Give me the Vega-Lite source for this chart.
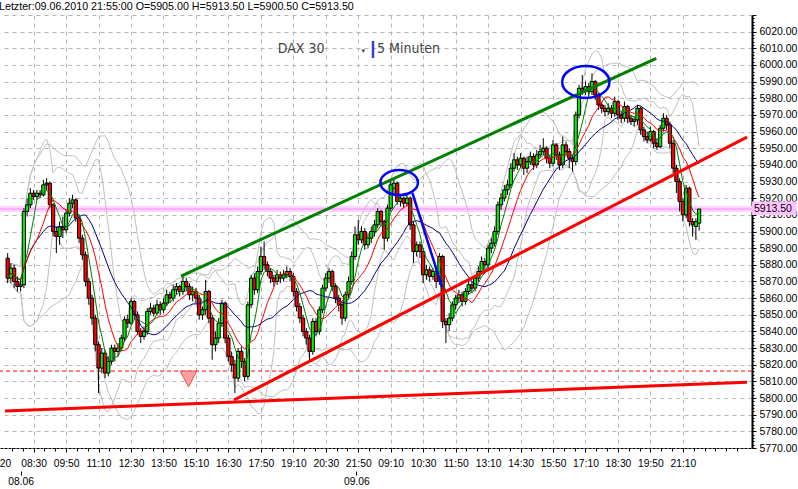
{
"$schema": "https://vega.github.io/schema/vega-lite/v6.json",
"width": 752, "height": 433,
"autosize": {"type": "none"},
"padding": {"left": 0, "top": 15, "right": 46, "bottom": 41},
"background": "white",
"config": {"view": {"stroke": null}, "font": "Liberation Sans", "axis": {"labelFont": "Liberation Sans"}},
"title": {"text": "Letzter:09.06.2010 21:55:00 O=5905.00 H=5913.50 L=5900.50 C=5913.50", "anchor": "start", "fontSize": 10.7, "fontWeight": "normal", "font": "Liberation Sans", "color": "#000000", "offset": 4, "dx": 2, "dy": 7},
"datasets": {
"bars": [
{"i":0,"o":5884,"h":5887,"l":5869,"c":5872},
{"i":1,"o":5872,"h":5881,"l":5869,"c":5878},
{"i":2,"o":5878,"h":5880,"l":5866,"c":5870},
{"i":3,"o":5870,"h":5873,"l":5864,"c":5867},
{"i":4,"o":5867,"h":5871,"l":5864,"c":5868},
{"i":5,"o":5868,"h":5914,"l":5866,"c":5912},
{"i":6,"o":5912,"h":5920,"l":5909,"c":5916},
{"i":7,"o":5916,"h":5926,"l":5914,"c":5923},
{"i":8,"o":5923,"h":5925,"l":5919,"c":5921},
{"i":9,"o":5921,"h":5925,"l":5919,"c":5923},
{"i":10,"o":5923,"h":5925,"l":5920,"c":5922},
{"i":11,"o":5922,"h":5931,"l":5921,"c":5928},
{"i":12,"o":5928,"h":5932,"l":5925,"c":5929},
{"i":13,"o":5929,"h":5930,"l":5914,"c":5916},
{"i":14,"o":5916,"h":5917,"l":5897,"c":5900},
{"i":15,"o":5900,"h":5903,"l":5887,"c":5897},
{"i":16,"o":5897,"h":5906,"l":5892,"c":5903},
{"i":17,"o":5903,"h":5909,"l":5896,"c":5901},
{"i":18,"o":5901,"h":5913,"l":5899,"c":5911},
{"i":19,"o":5911,"h":5920,"l":5909,"c":5917},
{"i":20,"o":5917,"h":5922,"l":5914,"c":5919},
{"i":21,"o":5919,"h":5920,"l":5906,"c":5908},
{"i":22,"o":5908,"h":5910,"l":5893,"c":5896},
{"i":23,"o":5896,"h":5898,"l":5883,"c":5886},
{"i":24,"o":5886,"h":5888,"l":5867,"c":5870},
{"i":25,"o":5870,"h":5872,"l":5856,"c":5860},
{"i":26,"o":5860,"h":5862,"l":5844,"c":5848},
{"i":27,"o":5848,"h":5850,"l":5828,"c":5832},
{"i":28,"o":5832,"h":5834,"l":5803,"c":5818},
{"i":29,"o":5818,"h":5830,"l":5815,"c":5827},
{"i":30,"o":5827,"h":5829,"l":5812,"c":5815},
{"i":31,"o":5815,"h":5825,"l":5813,"c":5822},
{"i":32,"o":5822,"h":5832,"l":5820,"c":5830},
{"i":33,"o":5830,"h":5832,"l":5822,"c":5828},
{"i":34,"o":5828,"h":5833,"l":5825,"c":5830},
{"i":35,"o":5830,"h":5838,"l":5828,"c":5836},
{"i":36,"o":5836,"h":5849,"l":5834,"c":5847},
{"i":37,"o":5847,"h":5850,"l":5842,"c":5845},
{"i":38,"o":5845,"h":5860,"l":5844,"c":5858},
{"i":39,"o":5858,"h":5859,"l":5847,"c":5850},
{"i":40,"o":5850,"h":5852,"l":5838,"c":5840},
{"i":41,"o":5840,"h":5842,"l":5833,"c":5837},
{"i":42,"o":5837,"h":5843,"l":5835,"c":5840},
{"i":43,"o":5840,"h":5854,"l":5838,"c":5852},
{"i":44,"o":5852,"h":5857,"l":5850,"c":5854},
{"i":45,"o":5854,"h":5856,"l":5849,"c":5851},
{"i":46,"o":5851,"h":5859,"l":5850,"c":5856},
{"i":47,"o":5856,"h":5858,"l":5850,"c":5853},
{"i":48,"o":5853,"h":5860,"l":5851,"c":5857},
{"i":49,"o":5857,"h":5865,"l":5855,"c":5862},
{"i":50,"o":5862,"h":5864,"l":5857,"c":5860},
{"i":51,"o":5860,"h":5868,"l":5858,"c":5865},
{"i":52,"o":5865,"h":5869,"l":5862,"c":5867},
{"i":53,"o":5867,"h":5868,"l":5861,"c":5864},
{"i":54,"o":5864,"h":5873,"l":5862,"c":5870},
{"i":55,"o":5870,"h":5872,"l":5864,"c":5867},
{"i":56,"o":5867,"h":5869,"l":5859,"c":5862},
{"i":57,"o":5862,"h":5867,"l":5858,"c":5864},
{"i":58,"o":5864,"h":5866,"l":5857,"c":5860},
{"i":59,"o":5860,"h":5862,"l":5847,"c":5850},
{"i":60,"o":5850,"h":5855,"l":5847,"c":5853},
{"i":61,"o":5853,"h":5871,"l":5850,"c":5864},
{"i":62,"o":5864,"h":5865,"l":5845,"c":5848},
{"i":63,"o":5848,"h":5850,"l":5823,"c":5832},
{"i":64,"o":5832,"h":5840,"l":5828,"c":5836},
{"i":65,"o":5836,"h":5848,"l":5833,"c":5845},
{"i":66,"o":5845,"h":5859,"l":5843,"c":5857},
{"i":67,"o":5857,"h":5858,"l":5833,"c":5836},
{"i":68,"o":5836,"h":5838,"l":5822,"c":5825},
{"i":69,"o":5825,"h":5828,"l":5816,"c":5820},
{"i":70,"o":5820,"h":5823,"l":5803,"c":5812},
{"i":71,"o":5812,"h":5830,"l":5810,"c":5828},
{"i":72,"o":5828,"h":5831,"l":5818,"c":5822},
{"i":73,"o":5822,"h":5824,"l":5810,"c":5813},
{"i":74,"o":5813,"h":5858,"l":5811,"c":5856},
{"i":75,"o":5856,"h":5874,"l":5854,"c":5872},
{"i":76,"o":5872,"h":5875,"l":5862,"c":5865},
{"i":77,"o":5865,"h":5879,"l":5863,"c":5876},
{"i":78,"o":5876,"h":5891,"l":5874,"c":5885},
{"i":79,"o":5885,"h":5894,"l":5877,"c":5880},
{"i":80,"o":5880,"h":5882,"l":5873,"c":5876},
{"i":81,"o":5876,"h":5878,"l":5869,"c":5872},
{"i":82,"o":5872,"h":5874,"l":5867,"c":5870},
{"i":83,"o":5870,"h":5877,"l":5868,"c":5874},
{"i":84,"o":5874,"h":5876,"l":5869,"c":5872},
{"i":85,"o":5872,"h":5877,"l":5870,"c":5874},
{"i":86,"o":5874,"h":5879,"l":5872,"c":5876},
{"i":87,"o":5876,"h":5878,"l":5870,"c":5873},
{"i":88,"o":5873,"h":5875,"l":5861,"c":5864},
{"i":89,"o":5864,"h":5866,"l":5852,"c":5855},
{"i":90,"o":5855,"h":5857,"l":5845,"c":5848},
{"i":91,"o":5848,"h":5850,"l":5837,"c":5840},
{"i":92,"o":5840,"h":5842,"l":5832,"c":5836},
{"i":93,"o":5836,"h":5838,"l":5822,"c":5828},
{"i":94,"o":5828,"h":5848,"l":5826,"c":5846},
{"i":95,"o":5846,"h":5848,"l":5837,"c":5840},
{"i":96,"o":5840,"h":5855,"l":5838,"c":5853},
{"i":97,"o":5853,"h":5868,"l":5851,"c":5866},
{"i":98,"o":5866,"h":5875,"l":5864,"c":5872},
{"i":99,"o":5872,"h":5878,"l":5869,"c":5876},
{"i":100,"o":5876,"h":5877,"l":5864,"c":5867},
{"i":101,"o":5867,"h":5869,"l":5857,"c":5860},
{"i":102,"o":5860,"h":5862,"l":5852,"c":5856},
{"i":103,"o":5856,"h":5858,"l":5844,"c":5848},
{"i":104,"o":5848,"h":5864,"l":5846,"c":5862},
{"i":105,"o":5862,"h":5873,"l":5860,"c":5870},
{"i":106,"o":5870,"h":5888,"l":5868,"c":5885},
{"i":107,"o":5885,"h":5903,"l":5883,"c":5898},
{"i":108,"o":5898,"h":5907,"l":5892,"c":5895},
{"i":109,"o":5895,"h":5903,"l":5893,"c":5900},
{"i":110,"o":5900,"h":5902,"l":5889,"c":5892},
{"i":111,"o":5892,"h":5899,"l":5890,"c":5896},
{"i":112,"o":5896,"h":5903,"l":5893,"c":5900},
{"i":113,"o":5900,"h":5907,"l":5897,"c":5904},
{"i":114,"o":5904,"h":5914,"l":5902,"c":5912},
{"i":115,"o":5912,"h":5913,"l":5903,"c":5906},
{"i":116,"o":5906,"h":5907,"l":5889,"c":5896},
{"i":117,"o":5896,"h":5916,"l":5894,"c":5914},
{"i":118,"o":5914,"h":5931,"l":5912,"c":5928},
{"i":119,"o":5926,"h":5931,"l":5922,"c":5929},
{"i":120,"o":5929,"h":5930,"l":5916,"c":5918},
{"i":121,"o":5918,"h":5922,"l":5915,"c":5920},
{"i":122,"o":5920,"h":5921,"l":5914,"c":5917},
{"i":123,"o":5917,"h":5922,"l":5915,"c":5920},
{"i":124,"o":5920,"h":5921,"l":5901,"c":5904},
{"i":125,"o":5904,"h":5906,"l":5881,"c":5888},
{"i":126,"o":5888,"h":5894,"l":5885,"c":5892},
{"i":127,"o":5892,"h":5894,"l":5884,"c":5888},
{"i":128,"o":5888,"h":5890,"l":5869,"c":5874},
{"i":129,"o":5874,"h":5880,"l":5871,"c":5877},
{"i":130,"o":5877,"h":5879,"l":5870,"c":5873},
{"i":131,"o":5873,"h":5878,"l":5871,"c":5876},
{"i":132,"o":5876,"h":5877,"l":5866,"c":5870},
{"i":133,"o":5870,"h":5887,"l":5868,"c":5885},
{"i":134,"o":5885,"h":5886,"l":5842,"c":5846},
{"i":135,"o":5846,"h":5848,"l":5833,"c":5844},
{"i":136,"o":5844,"h":5851,"l":5840,"c":5848},
{"i":137,"o":5848,"h":5858,"l":5846,"c":5856},
{"i":138,"o":5856,"h":5862,"l":5853,"c":5860},
{"i":139,"o":5860,"h":5865,"l":5857,"c":5862},
{"i":140,"o":5862,"h":5864,"l":5855,"c":5858},
{"i":141,"o":5858,"h":5866,"l":5856,"c":5864},
{"i":142,"o":5864,"h":5871,"l":5862,"c":5868},
{"i":143,"o":5868,"h":5870,"l":5863,"c":5866},
{"i":144,"o":5866,"h":5874,"l":5864,"c":5872},
{"i":145,"o":5872,"h":5879,"l":5870,"c":5876},
{"i":146,"o":5876,"h":5885,"l":5874,"c":5882},
{"i":147,"o":5882,"h":5884,"l":5877,"c":5880},
{"i":148,"o":5880,"h":5892,"l":5878,"c":5890},
{"i":149,"o":5890,"h":5896,"l":5887,"c":5893},
{"i":150,"o":5893,"h":5903,"l":5891,"c":5900},
{"i":151,"o":5900,"h":5918,"l":5898,"c":5916},
{"i":152,"o":5916,"h":5923,"l":5913,"c":5920},
{"i":153,"o":5920,"h":5928,"l":5918,"c":5925},
{"i":154,"o":5925,"h":5931,"l":5922,"c":5928},
{"i":155,"o":5928,"h":5941,"l":5926,"c":5938},
{"i":156,"o":5938,"h":5947,"l":5936,"c":5943},
{"i":157,"o":5943,"h":5945,"l":5937,"c":5940},
{"i":158,"o":5940,"h":5947,"l":5938,"c":5944},
{"i":159,"o":5944,"h":5945,"l":5934,"c":5938},
{"i":160,"o":5938,"h":5945,"l":5935,"c":5942},
{"i":161,"o":5942,"h":5948,"l":5940,"c":5945},
{"i":162,"o":5945,"h":5947,"l":5937,"c":5940},
{"i":163,"o":5940,"h":5949,"l":5938,"c":5946},
{"i":164,"o":5946,"h":5952,"l":5944,"c":5948},
{"i":165,"o":5948,"h":5956,"l":5946,"c":5950},
{"i":166,"o":5950,"h":5951,"l":5941,"c":5944},
{"i":167,"o":5944,"h":5946,"l":5938,"c":5941},
{"i":168,"o":5941,"h":5955,"l":5939,"c":5952},
{"i":169,"o":5952,"h":5953,"l":5943,"c":5946},
{"i":170,"o":5946,"h":5948,"l":5937,"c":5940},
{"i":171,"o":5940,"h":5957,"l":5938,"c":5952},
{"i":172,"o":5952,"h":5954,"l":5945,"c":5948},
{"i":173,"o":5948,"h":5950,"l":5938,"c":5944},
{"i":174,"o":5944,"h":5946,"l":5936,"c":5942},
{"i":175,"o":5942,"h":5972,"l":5940,"c":5970},
{"i":176,"o":5970,"h":5988,"l":5968,"c":5986},
{"i":177,"o":5986,"h":5994,"l":5982,"c":5984},
{"i":178,"o":5984,"h":5990,"l":5982,"c":5987},
{"i":179,"o":5987,"h":5989,"l":5981,"c":5984},
{"i":180,"o":5984,"h":5995,"l":5982,"c":5990},
{"i":181,"o":5990,"h":5991,"l":5979,"c":5982},
{"i":182,"o":5982,"h":5983,"l":5973,"c":5976},
{"i":183,"o":5976,"h":5978,"l":5971,"c":5974},
{"i":184,"o":5974,"h":5976,"l":5969,"c":5972},
{"i":185,"o":5972,"h":5977,"l":5970,"c":5974},
{"i":186,"o":5974,"h":5976,"l":5968,"c":5971},
{"i":187,"o":5971,"h":5981,"l":5969,"c":5978},
{"i":188,"o":5978,"h":5979,"l":5967,"c":5970},
{"i":189,"o":5970,"h":5972,"l":5965,"c":5968},
{"i":190,"o":5968,"h":5978,"l":5966,"c":5975},
{"i":191,"o":5975,"h":5976,"l":5965,"c":5968},
{"i":192,"o":5968,"h":5970,"l":5964,"c":5966},
{"i":193,"o":5966,"h":5969,"l":5963,"c":5967},
{"i":194,"o":5967,"h":5976,"l":5964,"c":5974},
{"i":195,"o":5974,"h":5975,"l":5958,"c":5961},
{"i":196,"o":5961,"h":5963,"l":5954,"c":5957},
{"i":197,"o":5957,"h":5960,"l":5953,"c":5955},
{"i":198,"o":5955,"h":5963,"l":5954,"c":5960},
{"i":199,"o":5960,"h":5961,"l":5950,"c":5953},
{"i":200,"o":5953,"h":5956,"l":5949,"c":5951},
{"i":201,"o":5951,"h":5964,"l":5950,"c":5962},
{"i":202,"o":5962,"h":5971,"l":5960,"c":5968},
{"i":203,"o":5968,"h":5970,"l":5961,"c":5964},
{"i":204,"o":5964,"h":5966,"l":5950,"c":5953},
{"i":205,"o":5953,"h":5955,"l":5935,"c":5938},
{"i":206,"o":5938,"h":5940,"l":5923,"c":5930},
{"i":207,"o":5930,"h":5932,"l":5912,"c":5918},
{"i":208,"o":5918,"h":5920,"l":5906,"c":5910},
{"i":209,"o":5910,"h":5928,"l":5908,"c":5926},
{"i":210,"o":5926,"h":5927,"l":5903,"c":5906},
{"i":211,"o":5906,"h":5908,"l":5897,"c":5904},
{"i":212,"o":5903,"h":5908,"l":5895,"c":5906},
{"i":213,"o":5905,"h":5913.5,"l":5900.5,"c":5913.5}
]
},
"layer": [
{"data": {"values": [{"v": 5913.5}]}, "mark": {"type": "rule", "color": "#ffd4ff", "strokeWidth": 6}, "encoding": {"y": {"field": "v", "type": "quantitative", "scale": {"domain": [5770, 6030], "nice": false, "zero": false}, "axis": null}}},
{"data": {"values": [{"v": 5913.5}]}, "mark": {"type": "rule", "color": "#ff88ff", "strokeWidth": 1.2}, "encoding": {"y": {"field": "v", "type": "quantitative", "scale": {"domain": [5770, 6030], "nice": false, "zero": false}, "axis": null}}},
{"data": {"values": [{"v": 5816.2}]}, "mark": {"type": "rule", "color": "#ff0000", "strokeWidth": 1, "strokeDash": [4, 3]}, "encoding": {"y": {"field": "v", "type": "quantitative", "scale": {"domain": [5770, 6030], "nice": false, "zero": false}, "axis": null}}},
{"data": {"values": [{"v": 5800}]}, "mark": {"type": "rule", "opacity": 0}, "encoding": {"y": {"field": "v", "type": "quantitative", "scale": {"domain": [5770, 6030], "nice": false, "zero": false}, "axis": {"orient": "right", "values": [5770,5772,5774,5776,5778,5780,5782,5784,5786,5788,5790,5792,5794,5796,5798,5800,5802,5804,5806,5808,5810,5812,5814,5816,5818,5820,5822,5824,5826,5828,5830,5832,5834,5836,5838,5840,5842,5844,5846,5848,5850,5852,5854,5856,5858,5860,5862,5864,5866,5868,5870,5872,5874,5876,5878,5880,5882,5884,5886,5888,5890,5892,5894,5896,5898,5900,5902,5904,5906,5908,5910,5912,5914,5916,5918,5920,5922,5924,5926,5928,5930,5932,5934,5936,5938,5940,5942,5944,5946,5948,5950,5952,5954,5956,5958,5960,5962,5964,5966,5968,5970,5972,5974,5976,5978,5980,5982,5984,5986,5988,5990,5992,5994,5996,5998,6000,6002,6004,6006,6008,6010,6012,6014,6016,6018,6020,6022,6024,6026,6028], "labels": false, "domain": false, "grid": false, "tickSize": 2, "tickColor": "#000000", "title": null}}}},
{"data": {"values": [{"i": 4}]}, "mark": {"type": "rule", "opacity": 0}, "encoding": {"x": {"field": "i", "type": "quantitative", "scale": {"domain": [-0.82, 227.75], "nice": false, "zero": false}, "axis": {"orient": "bottom", "offset": 23, "values": [4.0, 107.4], "labelExpr": "datum.value < 50 ? '08.06' : '09.06'", "domain": false, "grid": false, "tickSize": 4, "tickColor": "#000000", "labelPadding": 1, "labelFontSize": 10.3, "labelColor": "#000000", "labelOverlap": false, "title": null}}}},
{"data": {"values": [{"i": 8}]}, "mark": {"type": "rule", "opacity": 0}, "encoding": {"x": {"field": "i", "type": "quantitative", "scale": {"domain": [-0.82, 227.75], "nice": false, "zero": false}, "axis": {"orient": "bottom", "values": [1.333,4.667,11.333,14.667,21.333,24.667,31.333,34.667,41.333,44.667,51.333,54.667,61.333,64.667,71.333,74.667,81.333,84.667,91.333,94.667,101.333,104.667,111.333,114.667,121.333,124.667,131.333,134.667,141.333,144.667,151.333,154.667,161.333,164.667,171.333,174.667,181.333,184.667,191.333,194.667,201.333,204.667,211.333,214.667,218,221.333,224.667], "labels": false, "domain": false, "grid": false, "tickSize": 3, "tickColor": "#000000", "title": null}}}},
{"data": {"name": "bars"}, "transform": [
  {"window": [{"op": "mean", "field": "c", "as": "ma"}, {"op": "stdevp", "field": "c", "as": "sa"}, {"op": "stdevp", "field": "c", "as": "sb"}], "frame": [-19, 0], "sort": [{"field": "i"}]},
  {"fold": ["ma", "sa", "sb"], "as": ["k", "v"]},
  {"stack": "v", "groupby": ["i"], "offset": "zero", "sort": [{"field": "k", "order": "ascending"}], "as": ["v0", "v1"]},
  {"filter": "datum.k == 'sb'"}],
 "mark": {"type": "line", "color": "#c0c0c0", "strokeWidth": 1},
 "encoding": {"x": {"field": "i", "type": "quantitative", "scale": {"domain": [-0.82, 227.75], "nice": false, "zero": false}, "axis": null}, "y": {"field": "v1", "type": "quantitative", "scale": {"domain": [5770, 6030], "nice": false, "zero": false}, "axis": null}}},
{"data": {"name": "bars"}, "transform": [
  {"window": [{"op": "mean", "field": "c", "as": "ma"}, {"op": "mean", "field": "c", "as": "mb"}, {"op": "stdevp", "field": "c", "as": "sa"}, {"op": "stdevp", "field": "c", "as": "sb"}], "frame": [-19, 0], "sort": [{"field": "i"}]},
  {"fold": ["ma", "mb"], "as": ["k1", "v1"]},
  {"stack": "v1", "groupby": ["i"], "offset": "center", "sort": [{"field": "k1", "order": "ascending"}], "as": ["r0", "r1"]},
  {"filter": "datum.k1 == 'ma'"},
  {"fold": ["r0", "sa", "sb"], "as": ["k2", "v2"]},
  {"stack": "v2", "groupby": ["i"], "offset": "zero", "sort": [{"field": "k2", "order": "ascending"}], "as": ["q0", "q1"]},
  {"filter": "datum.k2 == 'sb'"}],
 "mark": {"type": "line", "color": "#c0c0c0", "strokeWidth": 1},
 "encoding": {"x": {"field": "i", "type": "quantitative", "scale": {"domain": [-0.82, 227.75], "nice": false, "zero": false}, "axis": null}, "y": {"field": "q1", "type": "quantitative", "scale": {"domain": [205.8, -54.2], "nice": false, "zero": false}, "axis": null}}},
{"data": {"name": "bars"}, "transform": [
  {"window": [{"op": "mean", "field": "c", "as": "ma"}, {"op": "stdevp", "field": "c", "as": "sa"}, {"op": "stdevp", "field": "c", "as": "sb"}], "frame": [-9, 0], "sort": [{"field": "i"}]},
  {"fold": ["ma", "sa", "sb"], "as": ["k", "v"]},
  {"stack": "v", "groupby": ["i"], "offset": "zero", "sort": [{"field": "k", "order": "ascending"}], "as": ["v0", "v1"]},
  {"filter": "datum.k == 'sb'"}],
 "mark": {"type": "line", "color": "#c0c0c0", "strokeWidth": 1},
 "encoding": {"x": {"field": "i", "type": "quantitative", "scale": {"domain": [-0.82, 227.75], "nice": false, "zero": false}, "axis": null}, "y": {"field": "v1", "type": "quantitative", "scale": {"domain": [5770, 6030], "nice": false, "zero": false}, "axis": null}}},
{"data": {"name": "bars"}, "transform": [
  {"window": [{"op": "mean", "field": "c", "as": "ma"}, {"op": "mean", "field": "c", "as": "mb"}, {"op": "stdevp", "field": "c", "as": "sa"}, {"op": "stdevp", "field": "c", "as": "sb"}], "frame": [-9, 0], "sort": [{"field": "i"}]},
  {"fold": ["ma", "mb"], "as": ["k1", "v1"]},
  {"stack": "v1", "groupby": ["i"], "offset": "center", "sort": [{"field": "k1", "order": "ascending"}], "as": ["r0", "r1"]},
  {"filter": "datum.k1 == 'ma'"},
  {"fold": ["r0", "sa", "sb"], "as": ["k2", "v2"]},
  {"stack": "v2", "groupby": ["i"], "offset": "zero", "sort": [{"field": "k2", "order": "ascending"}], "as": ["q0", "q1"]},
  {"filter": "datum.k2 == 'sb'"}],
 "mark": {"type": "line", "color": "#c0c0c0", "strokeWidth": 1},
 "encoding": {"x": {"field": "i", "type": "quantitative", "scale": {"domain": [-0.82, 227.75], "nice": false, "zero": false}, "axis": null}, "y": {"field": "q1", "type": "quantitative", "scale": {"domain": [210.9, -49.1], "nice": false, "zero": false}, "axis": null}}},
{"data": {"name": "bars"}, "mark": {"type": "rule", "color": "#000000", "strokeWidth": 1},
 "encoding": {
  "x": {"field": "i", "type": "quantitative", "scale": {"domain": [-0.82, 227.75], "nice": false, "zero": false},
   "axis": {"orient": "bottom", "values": [-0.82,8,18,28,38,48,58,68,78,88,98,108,118,128,138,148,158,168,178,188,198,208],
    "labelExpr": "datum.value < 0 ? '20' : ['08:30','09:50','11:10','12:30','13:50','15:10','16:30','17:50','19:10','20:30','21:50','09:10','10:30','11:50','13:10','14:30','15:50','17:10','18:30','19:50','21:10'][round((datum.value - 8) / 10)]",
    "labelFlush": true, "labelOverlap": false, "labelBound": false, "labelFontSize": 10.3, "labelColor": "#000000", "labelPadding": 6,
    "tickSize": 4, "tickColor": "#000000", "tickOpacity": {"condition": {"test": "datum.value < 0", "value": 0}, "value": 1},
    "domainColor": "#000000", "domainDash": [3, 1],
    "grid": true, "gridColor": "#b4b4b4", "gridDash": [4, 4], "gridOpacity": {"condition": {"test": "datum.value < 0", "value": 0}, "value": 1}, "title": null}},
  "y": {"field": "l", "type": "quantitative", "scale": {"domain": [5770, 6030], "nice": false, "zero": false},
   "axis": {"orient": "right", "values": [5770,5780,5790,5800,5810,5820,5830,5840,5850,5860,5870,5880,5890,5900,5910,5920,5930,5940,5950,5960,5970,5980,5990,6000,6010,6020,6030],
    "labelExpr": "datum.value > 6025 ? '' : format(datum.value, '.2f')", "labelOverlap": false, "labelFontSize": 10.5, "labelColor": "#000000", "labelPadding": 3,
    "tickSize": 4, "tickColor": "#000000", "domainColor": "#000000", "domainWidth": 2,
    "grid": true, "gridColor": "#b4b4b4", "gridDash": [4, 4], "title": null}},
  "y2": {"field": "h"}
 }},
{"data": {"name": "bars"}, "mark": {"type": "bar", "size": 3.2, "stroke": "#000000", "strokeWidth": 1},
 "encoding": {
  "x": {"field": "i", "type": "quantitative", "scale": {"domain": [-0.82, 227.75], "nice": false, "zero": false}, "axis": null},
  "y": {"field": "o", "type": "quantitative", "scale": {"domain": [5770, 6030], "nice": false, "zero": false}, "axis": null},
  "y2": {"field": "c"},
  "fill": {"condition": {"test": "datum.c >= datum.o", "value": "#00f000"}, "value": "#ff0000"}
 }},
{"data": {"name": "bars"}, "transform": [{"window": [{"op": "mean", "field": "c", "as": "m"}], "frame": [-19, 0], "sort": [{"field": "i"}]}],
 "mark": {"type": "line", "color": "#000080", "strokeWidth": 1},
 "encoding": {"x": {"field": "i", "type": "quantitative", "scale": {"domain": [-0.82, 227.75], "nice": false, "zero": false}, "axis": null}, "y": {"field": "m", "type": "quantitative", "scale": {"domain": [5770, 6030], "nice": false, "zero": false}, "axis": null}}},
{"data": {"name": "bars"}, "transform": [{"window": [{"op": "mean", "field": "c", "as": "m"}], "frame": [-9, 0], "sort": [{"field": "i"}]}],
 "mark": {"type": "line", "color": "#ff0000", "strokeWidth": 1},
 "encoding": {"x": {"field": "i", "type": "quantitative", "scale": {"domain": [-0.82, 227.75], "nice": false, "zero": false}, "axis": null}, "y": {"field": "m", "type": "quantitative", "scale": {"domain": [5770, 6030], "nice": false, "zero": false}, "axis": null}}},
{"data": {"name": "bars"}, "transform": [{"window": [{"op": "mean", "field": "c", "as": "m"}], "frame": [-4, 0], "sort": [{"field": "i"}]}],
 "mark": {"type": "line", "color": "#008000", "strokeWidth": 1},
 "encoding": {"x": {"field": "i", "type": "quantitative", "scale": {"domain": [-0.82, 227.75], "nice": false, "zero": false}, "axis": null}, "y": {"field": "m", "type": "quantitative", "scale": {"domain": [5770, 6030], "nice": false, "zero": false}, "axis": null}}},
{"data": {"values": [{"i": 53.4, "v": 5873.2}, {"i": 199.8, "v": 6004}]}, "mark": {"type": "line", "color": "#008000", "strokeWidth": 3},
 "encoding": {"x": {"field": "i", "type": "quantitative", "scale": {"domain": [-0.82, 227.75], "nice": false, "zero": false}, "axis": null}, "y": {"field": "v", "type": "quantitative", "scale": {"domain": [5770, 6030], "nice": false, "zero": false}, "axis": null}}},
{"data": {"values": [{"i": -0.82, "v": 5792.2}, {"i": 227.75, "v": 5809.5}]}, "mark": {"type": "line", "color": "#ff0000", "strokeWidth": 3},
 "encoding": {"x": {"field": "i", "type": "quantitative", "scale": {"domain": [-0.82, 227.75], "nice": false, "zero": false}, "axis": null}, "y": {"field": "v", "type": "quantitative", "scale": {"domain": [5770, 6030], "nice": false, "zero": false}, "axis": null}}},
{"data": {"values": [{"i": 69.7, "v": 5798.8}, {"i": 227.75, "v": 5956.7}]}, "mark": {"type": "line", "color": "#ff0000", "strokeWidth": 3},
 "encoding": {"x": {"field": "i", "type": "quantitative", "scale": {"domain": [-0.82, 227.75], "nice": false, "zero": false}, "axis": null}, "y": {"field": "v", "type": "quantitative", "scale": {"domain": [5770, 6030], "nice": false, "zero": false}, "axis": null}}},
{"data": {"values": [{"i": 124.7, "v": 5923}, {"i": 133.8, "v": 5866.6}]}, "mark": {"type": "line", "color": "#0000ff", "strokeWidth": 2.5},
 "encoding": {"x": {"field": "i", "type": "quantitative", "scale": {"domain": [-0.82, 227.75], "nice": false, "zero": false}, "axis": null}, "y": {"field": "v", "type": "quantitative", "scale": {"domain": [5770, 6030], "nice": false, "zero": false}, "axis": null}}},
{"data": {"values": [{"i": 120.6, "v": 5929.4}]}, "mark": {"type": "point", "shape": "M-1,0A1,0.665,0,1,0,1,0A1,0.665,0,1,0,-1,0Z", "size": 1414, "filled": false, "stroke": "#0000ff", "strokeWidth": 2.5, "opacity": 1},
 "encoding": {"x": {"field": "i", "type": "quantitative", "scale": {"domain": [-0.82, 227.75], "nice": false, "zero": false}, "axis": null}, "y": {"field": "v", "type": "quantitative", "scale": {"domain": [5770, 6030], "nice": false, "zero": false}, "axis": null}}},
{"data": {"values": [{"i": 178.1, "v": 5989.8}]}, "mark": {"type": "point", "shape": "M-1,0A1,0.677,0,1,0,1,0A1,0.677,0,1,0,-1,0Z", "size": 2237, "filled": false, "stroke": "#0000ff", "strokeWidth": 2.5, "opacity": 1},
 "encoding": {"x": {"field": "i", "type": "quantitative", "scale": {"domain": [-0.82, 227.75], "nice": false, "zero": false}, "axis": null}, "y": {"field": "v", "type": "quantitative", "scale": {"domain": [5770, 6030], "nice": false, "zero": false}, "axis": null}}},
{"data": {"values": [{"i": 55.7, "v": 5811.7}]}, "mark": {"type": "point", "shape": "M-1,-0.9L1,-0.9L0,1Z", "size": 276, "filled": true, "fill": "#ff9f9f", "stroke": "#e85050", "strokeWidth": 1, "opacity": 1},
 "encoding": {"x": {"field": "i", "type": "quantitative", "scale": {"domain": [-0.82, 227.75], "nice": false, "zero": false}, "axis": null}, "y": {"field": "v", "type": "quantitative", "scale": {"domain": [5770, 6030], "nice": false, "zero": false}, "axis": null}}},
{"data": {"values": [{"i": 90.4, "v": 6009.3, "t": "DAX 30"}]}, "mark": {"type": "text", "font": "DejaVu Sans Condensed", "fontSize": 14, "color": "#454545", "align": "center", "baseline": "middle"},
 "encoding": {"x": {"field": "i", "type": "quantitative", "scale": {"domain": [-0.82, 227.75], "nice": false, "zero": false}, "axis": null}, "y": {"field": "v", "type": "quantitative", "scale": {"domain": [5770, 6030], "nice": false, "zero": false}, "axis": null}, "text": {"field": "t"}}},
{"data": {"values": [{"i": 113.8, "v": 6009.3, "t": "5 Minuten"}]}, "mark": {"type": "text", "font": "DejaVu Sans Condensed", "fontSize": 14, "color": "#454545", "align": "left", "baseline": "middle"},
 "encoding": {"x": {"field": "i", "type": "quantitative", "scale": {"domain": [-0.82, 227.75], "nice": false, "zero": false}, "axis": null}, "y": {"field": "v", "type": "quantitative", "scale": {"domain": [5770, 6030], "nice": false, "zero": false}, "axis": null}, "text": {"field": "t"}}},
{"data": {"values": [{"i": 109.5, "v": 6008.5, "t": "▼"}]}, "mark": {"type": "text", "fontSize": 6, "color": "#404040", "align": "center", "baseline": "middle"},
 "encoding": {"x": {"field": "i", "type": "quantitative", "scale": {"domain": [-0.82, 227.75], "nice": false, "zero": false}, "axis": null}, "y": {"field": "v", "type": "quantitative", "scale": {"domain": [5770, 6030], "nice": false, "zero": false}, "axis": null}, "text": {"field": "t"}}},
{"data": {"values": [{"i": 112.55, "v": 6014.4, "v2": 6004.2}]}, "mark": {"type": "rule", "color": "#3a3acc", "strokeWidth": 2.5},
 "encoding": {"x": {"field": "i", "type": "quantitative", "scale": {"domain": [-0.82, 227.75], "nice": false, "zero": false}, "axis": null}, "y": {"field": "v", "type": "quantitative", "scale": {"domain": [5770, 6030], "nice": false, "zero": false}, "axis": null}, "y2": {"field": "v2"}}},
{"data": {"values": [{"i": 229.3, "i2": 243, "v": 5909.9, "v2": 5918}]}, "mark": {"type": "rect", "color": "#ffc4ff"},
 "encoding": {"x": {"field": "i", "type": "quantitative", "scale": {"domain": [-0.82, 227.75], "nice": false, "zero": false}, "axis": null}, "x2": {"field": "i2"}, "y": {"field": "v", "type": "quantitative", "scale": {"domain": [5770, 6030], "nice": false, "zero": false}, "axis": null}, "y2": {"field": "v2"}}},
{"data": {"values": [{"i": 229.9, "v": 5913.5, "t": "5913.50"}]}, "mark": {"type": "text", "fontSize": 10.5, "color": "#000000", "align": "left", "baseline": "middle"},
 "encoding": {"x": {"field": "i", "type": "quantitative", "scale": {"domain": [-0.82, 227.75], "nice": false, "zero": false}, "axis": null}, "y": {"field": "v", "type": "quantitative", "scale": {"domain": [5770, 6030], "nice": false, "zero": false}, "axis": null}, "text": {"field": "t"}}}
],
"resolve": {"scale": {"y": "independent"}, "axis": {"x": "independent", "y": "independent"}}
}
